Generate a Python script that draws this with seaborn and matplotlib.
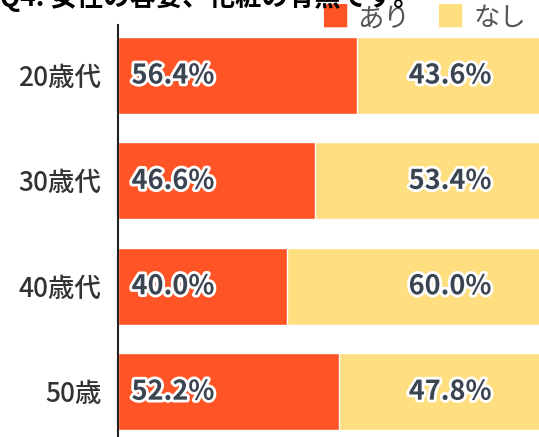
import matplotlib.pyplot as plt
import matplotlib.patheffects as pe
import pandas as pd
import seaborn as sns

ages = ["20歳代", "30歳代", "40歳代", "50歳"]
ari = [56.4, 46.6, 40.0, 52.2]
nashi = [43.6, 53.4, 60.0, 47.8]
title = "Q4. 女性の容姿、化粧の有無です。"

orange = "#FF5526"
yellow = "#FFDE7F"
label_col = "#3B4552"

sns.set_theme(style="white")
plt.rcParams['font.family'] = ['Noto Sans CJK JP', 'DejaVu Sans']

df = pd.DataFrame({"age": ages, "ari": ari, "nashi": nashi})
df["total"] = df["ari"] + df["nashi"]

fig = plt.figure(figsize=(5.39, 4.37), dpi=100)
ax = fig.add_axes([0.219, 0.0, 0.785, 0.943])

sns.barplot(data=df, y="age", x="total", color=yellow, width=0.73,
            orient="h", ax=ax, saturation=1)
sns.barplot(data=df, y="age", x="ari", color=orange, width=0.73,
            orient="h", ax=ax, saturation=1)

ax.set_xlim(0, 100)
ax.set_ylim(3.43, -0.48)
ax.set_xlabel("")
ax.set_ylabel("")
ax.set_xticks([])
for s in ["top", "right", "bottom"]:
    ax.spines[s].set_visible(False)
ax.spines["left"].set_color("#222222")
ax.spines["left"].set_linewidth(1.5)
ax.tick_params(axis="y", length=0, pad=12, labelsize=19, labelcolor="#333333")
for t in ax.get_yticklabels():
    t.set_fontweight("medium")

stroke = [pe.withStroke(linewidth=4, foreground="white")]
for i, (a, n) in enumerate(zip(ari, nashi)):
    ax.text(3.2, i, f"{a:.1f}%", ha="left", va="center", fontsize=19.5,
            fontweight="semibold", color=label_col, path_effects=stroke)
    ax.text(78.5, i, f"{n:.1f}%", ha="center", va="center", fontsize=19.5,
            fontweight="semibold", color=label_col, path_effects=stroke)

# legend drawn as text with square markers
fig.text(0.593, 0.957, "■", fontsize=21, color=orange, ha="left", va="center")
fig.text(0.662, 0.957, "あり", fontsize=19, color="#555555", ha="left", va="center")
fig.text(0.808, 0.957, "■", fontsize=21, color=yellow, ha="left", va="center")
fig.text(0.878, 0.957, "なし", fontsize=19, color="#555555", ha="left", va="center")

fig.text(0.0, 0.987, title, fontsize=19, fontweight="bold", color="black",
         ha="left", va="baseline")

fig.savefig("out.png", dpi=100)
